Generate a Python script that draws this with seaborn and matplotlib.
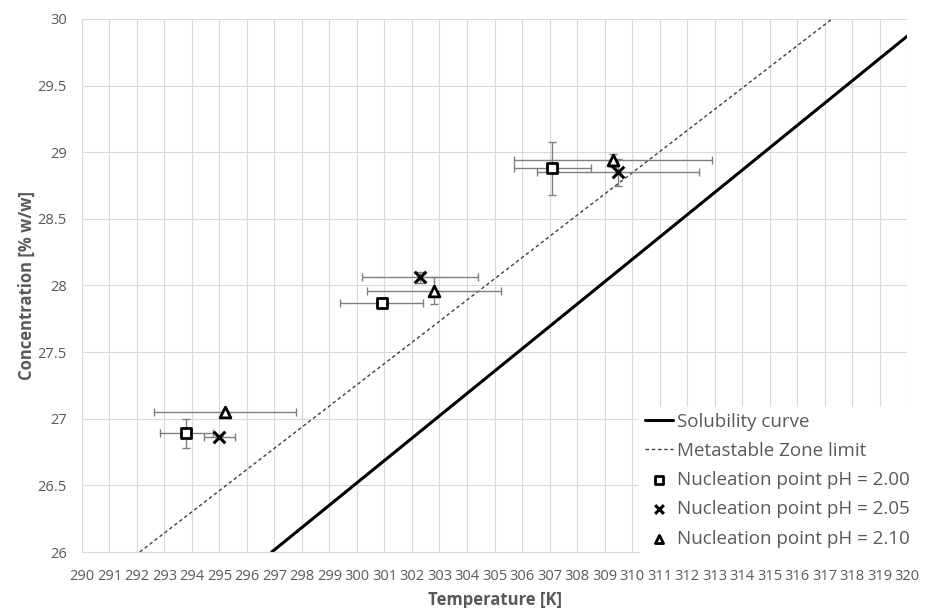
import matplotlib
matplotlib.use("Agg")
import matplotlib.pyplot as plt
import seaborn as sns
import pandas as pd

# Solubility curve and metastable zone limit (end points of the straight lines)
sol_T = [296.9, 320.0]
sol_C = [26.0, 29.87]
msz_T = [292.1, 317.27]
msz_C = [26.0, 30.0]

# Nucleation points with their uncertainties
ph_labels = ["Nucleation point pH = 2.00", "Nucleation point pH = 2.05", "Nucleation point pH = 2.10"]
ph200_T = [293.8, 300.9, 307.1]
ph200_C = [26.89, 27.87, 28.88]
ph200_Terr = [0.95, 1.5, 1.4]
ph200_Cerr = [0.11, 0.02, 0.2]

ph205_T = [295.0, 302.3, 309.5]
ph205_C = [26.86, 28.06, 28.85]
ph205_Terr = [0.55, 2.1, 2.95]
ph205_Cerr = [0.01, 0.04, 0.1]

ph210_T = [295.2, 302.8, 309.3]
ph210_C = [27.05, 27.96, 28.94]
ph210_Terr = [2.57, 2.45, 3.6]
ph210_Cerr = [0.01, 0.1, 0.05]

sns.set_theme(style="white")
plt.rcParams["font.family"] = ["Open Sans", "DejaVu Sans"]

fig = plt.figure(figsize=(9.25, 6.08), dpi=100)
ax = fig.add_axes([0.0886, 0.0921, 0.892, 0.8767])

grey = "#595959"
ax.set_xlim(290, 320)
ax.set_ylim(26, 30)
ax.set_xticks(range(290, 321))
ax.set_yticks([26, 26.5, 27, 27.5, 28, 28.5, 29, 29.5, 30])
ax.set_yticklabels(["26", "26.5", "27", "27.5", "28", "28.5", "29", "29.5", "30"])
ax.grid(True, color="#d9d9d9", linewidth=0.8)
ax.set_axisbelow(True)
for s in ["top", "right"]:
    ax.spines[s].set_visible(False)
for s in ["left", "bottom"]:
    ax.spines[s].set_color("#d9d9d9")
    ax.spines[s].set_linewidth(0.8)
ax.tick_params(axis="x", colors=grey, labelsize=10.5, length=0, pad=12)
ax.tick_params(axis="y", colors=grey, labelsize=10.5, length=0, pad=11)

sol = pd.DataFrame({"T": sol_T, "C": sol_C})
msz = pd.DataFrame({"T": msz_T, "C": msz_C})
sns.lineplot(data=sol, x="T", y="C", ax=ax, color="black", linewidth=2.2,
             label="Solubility curve")
sns.lineplot(data=msz, x="T", y="C", ax=ax, color="#404040", linewidth=1.0,
             linestyle=(0, (2.5, 2)), label="Metastable Zone limit")

series = [
    (ph200_T, ph200_C, ph200_Terr, ph200_Cerr, "s", 55),
    (ph205_T, ph205_C, ph205_Terr, ph205_Cerr, "x", 70),
    (ph210_T, ph210_C, ph210_Terr, ph210_Cerr, "^", 60),
]
for (T, C, Te, Ce, mk, sz), lab in zip(series, ph_labels):
    ax.errorbar(T, C, xerr=Te, yerr=Ce, fmt="none", ecolor="#7f7f7f",
                elinewidth=1.0, capsize=3, capthick=1.0, zorder=3)
    df = pd.DataFrame({"T": T, "C": C})
    if mk == "x":
        sns.scatterplot(data=df, x="T", y="C", ax=ax, marker="x", s=sz,
                        color="black", linewidth=2.2, label=lab, zorder=4)
    else:
        sns.scatterplot(data=df, x="T", y="C", ax=ax, marker=mk, s=sz,
                        facecolor="white", edgecolor="black", linewidth=2.0,
                        label=lab, zorder=4)

ax.set_xlabel("Temperature [K]", fontsize=12, fontweight="bold", color=grey, labelpad=5)
ax.set_ylabel("Concentration [% w/w]", fontsize=12, fontweight="bold", color=grey, labelpad=1)

leg = ax.legend(loc="lower right", frameon=True, fontsize=13.5, handlelength=1.5,
                handletextpad=0.25, borderpad=0.3, labelspacing=0.6,
                markerscale=0.75, bbox_to_anchor=(1.022, -0.02))
leg.get_frame().set_facecolor("white")
leg.get_frame().set_edgecolor("white")
leg.get_frame().set_alpha(1.0)
for t in leg.get_texts():
    t.set_color(grey)

fig.savefig("out.png", dpi=100)
